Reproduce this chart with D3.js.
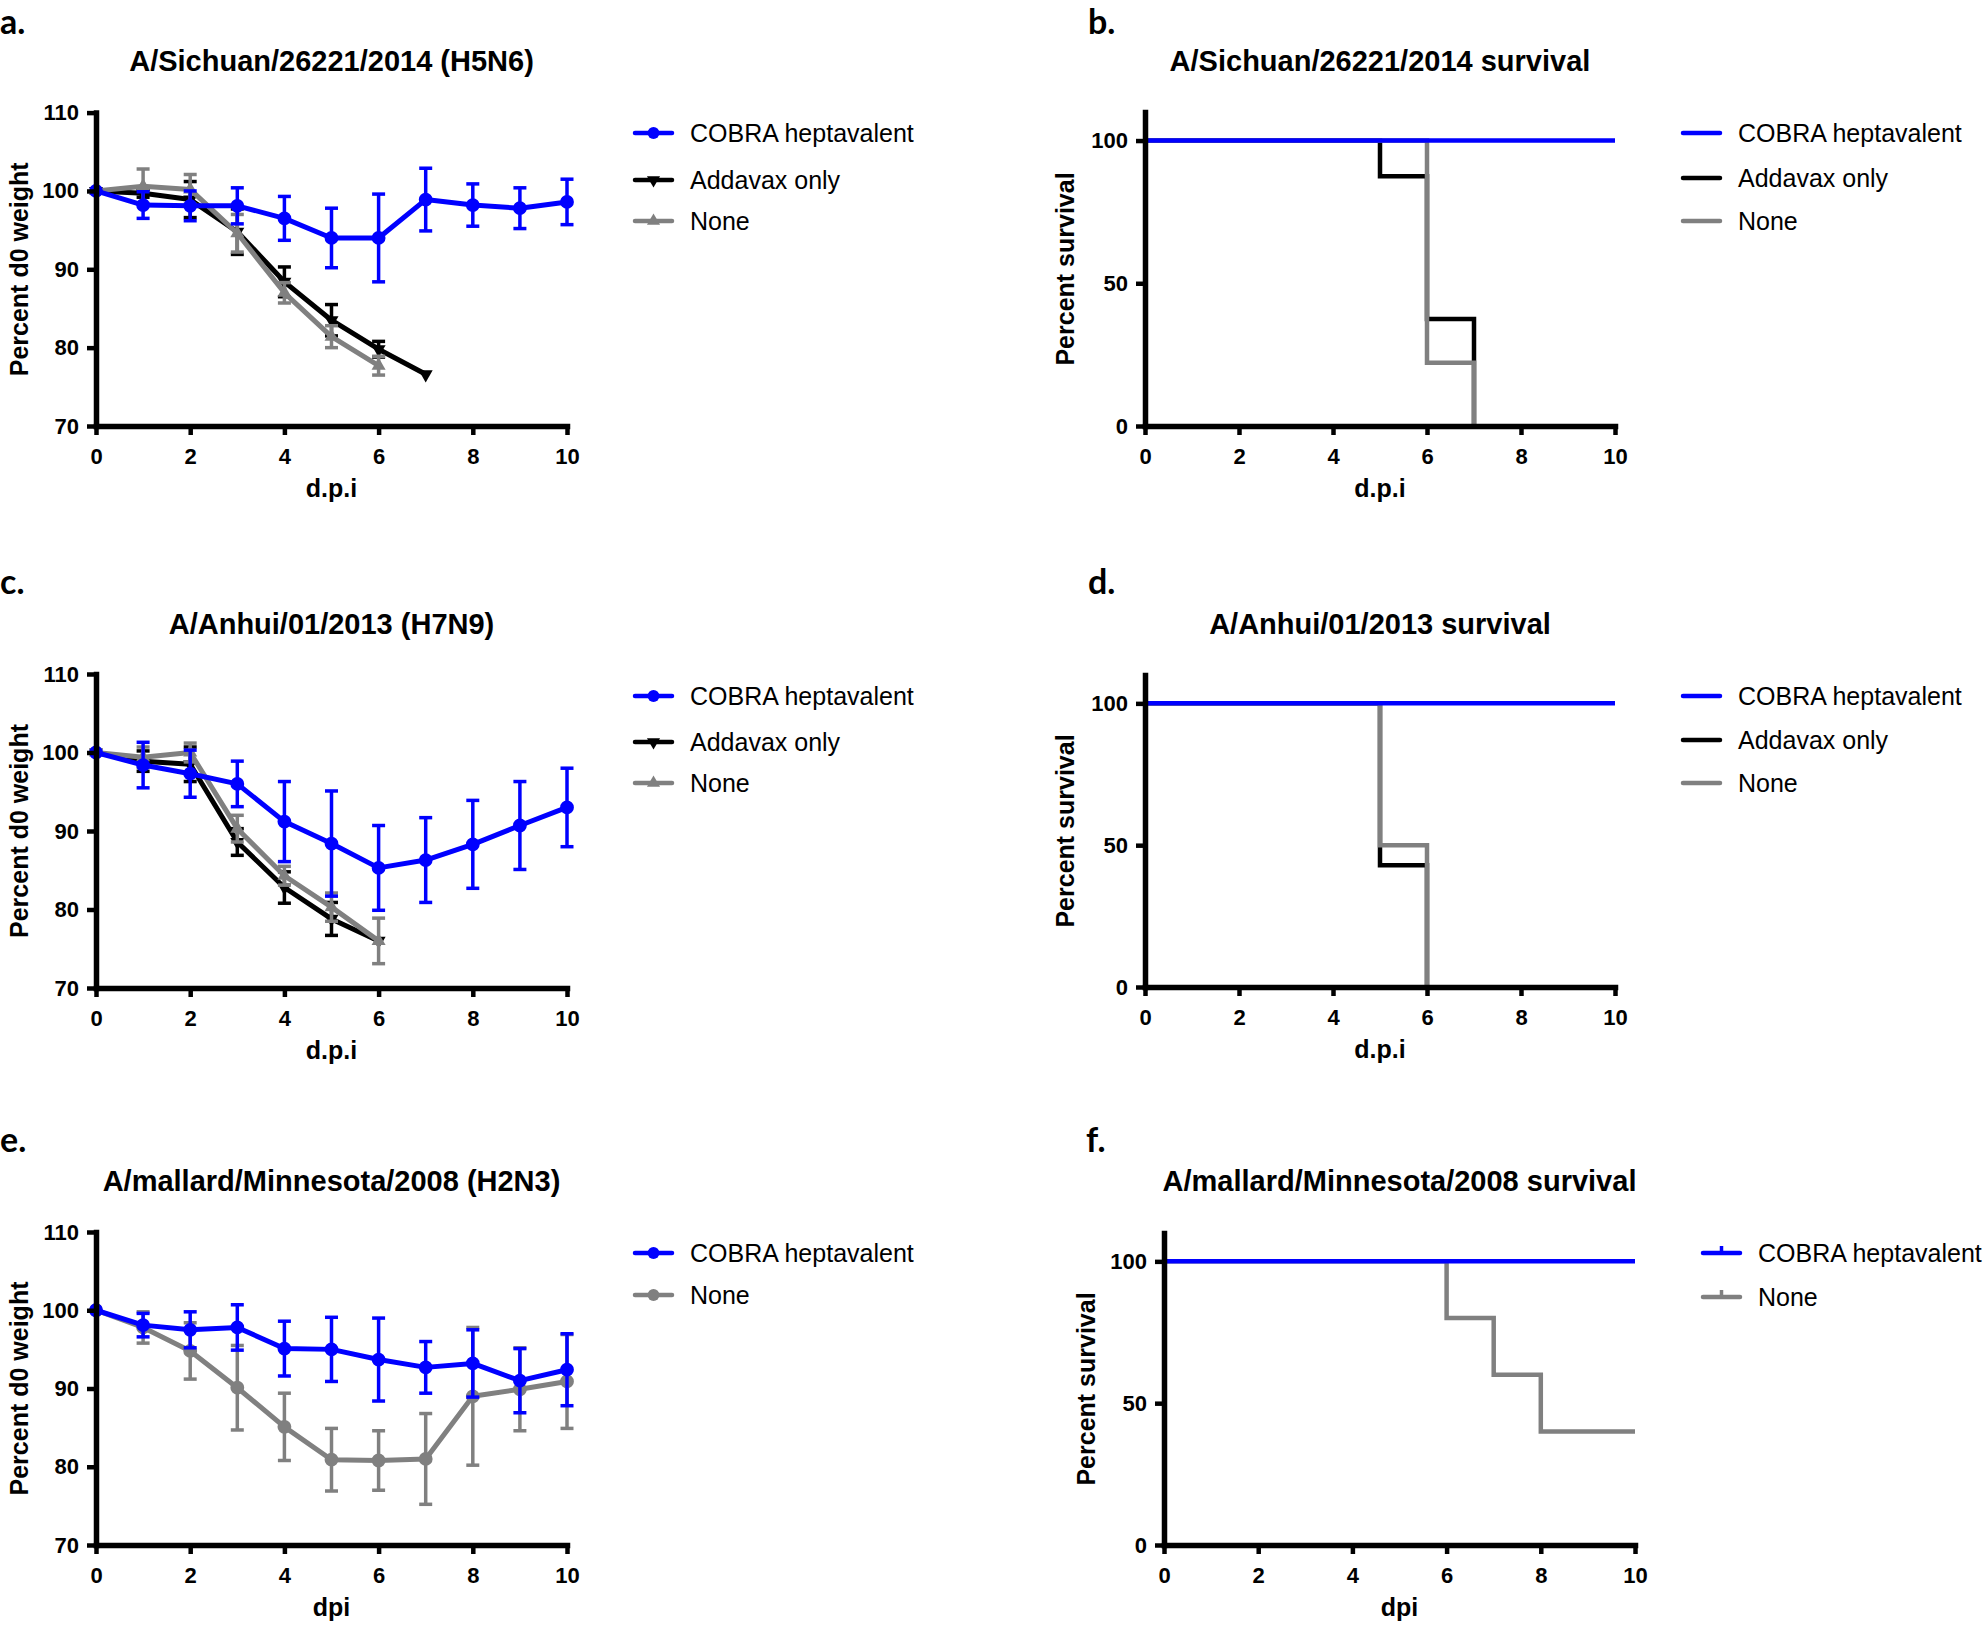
<!DOCTYPE html>
<html>
<head>
<meta charset="utf-8">
<script src="https://cdn.jsdelivr.net/npm/d3@7"></script>
<style>
body { margin: 0; background: #fff; }
svg text { font-family: "Liberation Sans", Arial, sans-serif; fill: #000; }
</style>
</head>
<body>
<script>
// ---- data ----
const days = [0, 1, 2, 3, 4, 5, 6, 7, 8, 9, 10];
const xTicks = [0, 2, 4, 6, 8, 10];
const weightTicks = [70, 80, 90, 100, 110];
const survivalTicks = [0, 50, 100];
const groupNames = ["COBRA heptavalent", "Addavax only", "None"];

// a. A/Sichuan/26221/2014 (H5N6)
const aCobra = [100, 98.2, 98.1, 98.1, 96.5, 94.0, 94.0, 98.9, 98.2, 97.8, 98.6];
const aCobraErr = [0, 1.7, 1.9, 2.3, 2.8, 3.8, 5.6, 4.0, 2.7, 2.6, 2.9];
const aAddavax = [100, 99.7, 98.9, 94.8, 88.4, 83.5, 79.8, 76.6];
const aAddavaxErr = [0, 0.5, 2.3, 2.9, 1.9, 2.0, 1.0, 0];
const aNone = [100, 100.6, 100.2, 94.6, 87.0, 81.4, 77.7];
const aNoneErr = [0, 2.2, 1.9, 2.4, 1.3, 1.4, 1.2];

// c. A/Anhui/01/2013 (H7N9)
const cCobra = [100, 98.4, 97.3, 96.0, 91.2, 88.4, 85.3, 86.3, 88.3, 90.7, 93.0];
const cCobraErr = [0, 2.9, 3.0, 2.9, 5.1, 6.7, 5.4, 5.4, 5.6, 5.6, 5.0];
const cAddavax = [100, 98.9, 98.5, 88.6, 82.8, 78.8, 76.0];
const cAddavaxErr = [0, 1.3, 2.2, 1.7, 2.0, 2.1, 0];
const cNone = [100, 99.4, 100.0, 90.3, 84.3, 80.3, 76.0];
const cNoneErr = [0, 1.3, 1.2, 1.7, 1.2, 1.8, 2.9];

// e. A/mallard/Minnesota/2008 (H2N3)
const eCobra = [100, 98.1, 97.5, 97.8, 95.1, 95.0, 93.7, 92.7, 93.2, 91.0, 92.4];
const eCobraErr = [0, 1.5, 2.3, 2.9, 3.5, 4.1, 5.3, 3.3, 4.3, 4.1, 4.6];
const eNone = [100, 97.8, 94.8, 90.1, 85.1, 80.9, 80.8, 81.0, 89.0, 89.9, 90.9];
const eNoneErr = [0, 2.0, 3.6, 5.4, 4.3, 4.0, 3.8, 5.8, 8.8, 5.3, 6.0];

// survival curves: change points [day, percent]
const bCobra = [[0, 100], [10, 100]];
const bAddavax = [[0, 100], [5, 87.5], [6, 37.5], [7, 0]];
const bNone = [[0, 100], [6, 22.2], [7, 0]];
const dCobra = [[0, 100], [10, 100]];
const dAddavax = [[0, 100], [5, 42.9], [6, 0]];
const dNone = [[0, 100], [5, 50], [6, 0]];
const fCobra = [[0, 100], [10, 100]];
const fNone = [[0, 100], [6, 80], [7, 60], [8, 40], [10, 40]];

const titles = {
    a: "A/Sichuan/26221/2014 (H5N6)",
    b: "A/Sichuan/26221/2014 survival",
    c: "A/Anhui/01/2013 (H7N9)",
    d: "A/Anhui/01/2013 survival",
    e: "A/mallard/Minnesota/2008 (H2N3)",
    f: "A/mallard/Minnesota/2008 survival"
};

const BLUE = "#0000ff", BLACK = "#000000", GREY = "#808080";

const W = 1983, H = 1627;
const svg = d3.select("body").append("svg")
    .attr("width", W)
    .attr("height", H);

function symbolPath(kind, size) {
    if (kind === "circle") return d3.symbol(d3.symbolCircle, size)();
    return d3.symbol(d3.symbolTriangle, size)();
}

function drawAxes(g, x, y, yTicks, cfg) {
    const gx = g.append("g")
        .attr("transform", `translate(0,${cfg.bottom})`)
        .call(d3.axisBottom(x).tickValues(xTicks).tickSize(9).tickSizeOuter(0).tickPadding(13));
    const gy = g.append("g")
        .attr("transform", `translate(${cfg.left},0)`)
        .call(d3.axisLeft(y).tickValues(yTicks).tickSize(9).tickSizeOuter(0).tickPadding(8));
    [gx, gy].forEach(a => {
        a.select(".domain").attr("stroke", "#000").attr("stroke-width", 5.5).attr("stroke-linecap", "square");
        a.selectAll(".tick line").attr("stroke", "#000").attr("stroke-width", 4.5);
        a.selectAll(".tick text")
            .attr("font-size", 22).attr("font-weight", "bold")
            .attr("font-family", "'Liberation Sans', Arial, sans-serif");
    });
}

function drawFrame(g, cfg, yLabel) {
    g.append("text")
        .attr("x", cfg.letterX).attr("y", cfg.letterY)
        .attr("font-size", 34).attr("font-weight", "bold")
        .style("font-family", "Lato, 'Open Sans', sans-serif")
        .text(cfg.id + ".");
    g.append("text")
        .attr("x", (cfg.left + cfg.right) / 2).attr("y", cfg.titleY)
        .attr("text-anchor", "middle")
        .attr("font-size", 29).attr("font-weight", "bold")
        .text(titles[cfg.id]);
    g.append("text")
        .attr("x", (cfg.left + cfg.right) / 2).attr("y", cfg.bottom + 71)
        .attr("text-anchor", "middle")
        .attr("font-size", 25).attr("font-weight", "bold")
        .text(cfg.xLabel);
    g.append("text")
        .attr("transform", `translate(${cfg.yLabelX},${(cfg.top + cfg.bottom) / 2}) rotate(-90)`)
        .attr("text-anchor", "middle")
        .attr("dominant-baseline", "central")
        .attr("font-size", 25).attr("font-weight", "bold")
        .text(yLabel);
}

function drawLegend(g, cfg, items) {
    items.forEach((it, i) => {
        const ly = cfg.legendY[i];
        const lg = g.append("g");
        lg.append("line")
            .attr("x1", cfg.legendX).attr("x2", cfg.legendX + 37)
            .attr("y1", ly).attr("y2", ly)
            .attr("stroke", it.color).attr("stroke-width", 4.5).attr("stroke-linecap", "round");
        const mx = cfg.legendX + 18.5;
        if (it.symbol) {
            lg.append("path")
                .attr("d", symbolPath(it.symbol, it.symbol === "circle" ? 110 : 75))
                .attr("transform", `translate(${mx},${ly}) rotate(${it.rotate || 0})`)
                .attr("fill", it.color);
        }
        if (it.censor) {
            lg.append("line")
                .attr("x1", mx).attr("x2", mx).attr("y1", ly).attr("y2", ly - 7)
                .attr("stroke", it.color).attr("stroke-width", 3.5);
        }
        lg.append("text")
            .attr("x", cfg.legendX + 55).attr("y", ly)
            .attr("dominant-baseline", "central")
            .attr("font-size", 25)
            .text(it.name);
    });
}

function weightPanel(cfg) {
    const g = svg.append("g");
    const x = d3.scaleLinear().domain([0, 10]).range([cfg.left, cfg.right]);
    const y = d3.scaleLinear().domain([70, 110]).range([cfg.bottom, cfg.top]);
    drawFrame(g, cfg, "Percent d0 weight");

    const line = d3.line().x(d => x(d.day)).y(d => y(d.v));
    cfg.draw.forEach(s => {
        const pts = s.values.map((v, i) => ({ day: days[i], v: v, e: s.errors[i] }));
        const sg = g.append("g");
        pts.filter(p => p.e > 0).forEach(p => {
            const px = x(p.day);
            sg.append("line").attr("x1", px).attr("x2", px)
                .attr("y1", y(p.v - p.e)).attr("y2", y(p.v + p.e))
                .attr("stroke", s.color).attr("stroke-width", 3.5);
            [p.v - p.e, p.v + p.e].forEach(ev => {
                sg.append("line").attr("x1", px - 6.5).attr("x2", px + 6.5)
                    .attr("y1", y(ev)).attr("y2", y(ev))
                    .attr("stroke", s.color).attr("stroke-width", 3.5);
            });
        });
        sg.append("path").datum(pts)
            .attr("d", line)
            .attr("fill", "none").attr("stroke", s.color)
            .attr("stroke-width", 5).attr("stroke-linejoin", "round");
        sg.selectAll(".mk").data(pts).join("path")
            .attr("d", symbolPath(s.symbol, s.symbol === "circle" ? 150 : 85))
            .attr("transform", p => `translate(${x(p.day)},${y(p.v)}) rotate(${s.rotate || 0})`)
            .attr("fill", s.color);
    });
    drawAxes(g, x, y, weightTicks, cfg);
    drawLegend(g, cfg, cfg.legend);
}

function survivalPanel(cfg) {
    const g = svg.append("g");
    const x = d3.scaleLinear().domain([0, 10]).range([cfg.left, cfg.right]);
    const y = d3.scaleLinear().domain([0, 110]).range([cfg.bottom, cfg.top]);
    drawFrame(g, cfg, "Percent survival");
    const line = d3.line().x(d => x(d[0])).y(d => y(d[1])).curve(d3.curveStepAfter);
    cfg.draw.forEach(s => {
        g.append("path").datum(s.points)
            .attr("d", line)
            .attr("fill", "none").attr("stroke", s.color)
            .attr("stroke-width", 4.5).attr("stroke-linejoin", "miter");
    });
    drawAxes(g, x, y, survivalTicks, cfg);
    drawLegend(g, cfg, cfg.legend);
}

const legend3 = [
    { name: groupNames[0], color: BLUE, symbol: "circle" },
    { name: groupNames[1], color: BLACK, symbol: "triangle", rotate: 180 },
    { name: groupNames[2], color: GREY, symbol: "triangle" }
];
const legendSurv3 = [
    { name: groupNames[0], color: BLUE },
    { name: groupNames[1], color: BLACK },
    { name: groupNames[2], color: GREY }
];

weightPanel({
    id: "a", left: 96, right: 567, top: 112.6, bottom: 426,
    titleY: 71, letterX: 0, letterY: 34, xLabel: "d.p.i", yLabelX: 19,
    legendX: 635, legendY: [133, 180, 221], legend: legend3,
    draw: [
        { values: aAddavax, errors: aAddavaxErr, color: BLACK, symbol: "triangle", rotate: 180 },
        { values: aNone, errors: aNoneErr, color: GREY, symbol: "triangle" },
        { values: aCobra, errors: aCobraErr, color: BLUE, symbol: "circle" }
    ]
});

survivalPanel({
    id: "b", left: 1145, right: 1615, top: 112, bottom: 426,
    titleY: 71, letterX: 1088, letterY: 34, xLabel: "d.p.i", yLabelX: 1065,
    legendX: 1683, legendY: [133, 178, 221], legend: legendSurv3,
    draw: [
        { points: bAddavax, color: BLACK },
        { points: bNone, color: GREY },
        { points: bCobra, color: BLUE }
    ]
});

weightPanel({
    id: "c", left: 96, right: 567, top: 674, bottom: 988,
    titleY: 634, letterX: 0, letterY: 594, xLabel: "d.p.i", yLabelX: 19,
    legendX: 635, legendY: [696, 742, 783], legend: legend3,
    draw: [
        { values: cAddavax, errors: cAddavaxErr, color: BLACK, symbol: "triangle", rotate: 180 },
        { values: cNone, errors: cNoneErr, color: GREY, symbol: "triangle" },
        { values: cCobra, errors: cCobraErr, color: BLUE, symbol: "circle" }
    ]
});

survivalPanel({
    id: "d", left: 1145, right: 1615, top: 675, bottom: 987,
    titleY: 634, letterX: 1088, letterY: 594, xLabel: "d.p.i", yLabelX: 1065,
    legendX: 1683, legendY: [696, 740, 783], legend: legendSurv3,
    draw: [
        { points: dAddavax, color: BLACK },
        { points: dNone, color: GREY },
        { points: dCobra, color: BLUE }
    ]
});

weightPanel({
    id: "e", left: 96, right: 567, top: 1232, bottom: 1545,
    titleY: 1191, letterX: 0, letterY: 1152, xLabel: "dpi", yLabelX: 19,
    legendX: 635, legendY: [1253, 1295],
    legend: [
        { name: groupNames[0], color: BLUE, symbol: "circle" },
        { name: groupNames[2], color: GREY, symbol: "circle" }
    ],
    draw: [
        { values: eNone, errors: eNoneErr, color: GREY, symbol: "circle" },
        { values: eCobra, errors: eCobraErr, color: BLUE, symbol: "circle" }
    ]
});

survivalPanel({
    id: "f", left: 1164, right: 1635, top: 1233, bottom: 1545,
    titleY: 1191, letterX: 1086, letterY: 1152, xLabel: "dpi", yLabelX: 1086,
    legendX: 1703, legendY: [1253, 1297],
    legend: [
        { name: groupNames[0], color: BLUE, censor: true },
        { name: groupNames[2], color: GREY, censor: true }
    ],
    draw: [
        { points: fNone, color: GREY },
        { points: fCobra, color: BLUE }
    ]
});
</script>
</body>
</html>
